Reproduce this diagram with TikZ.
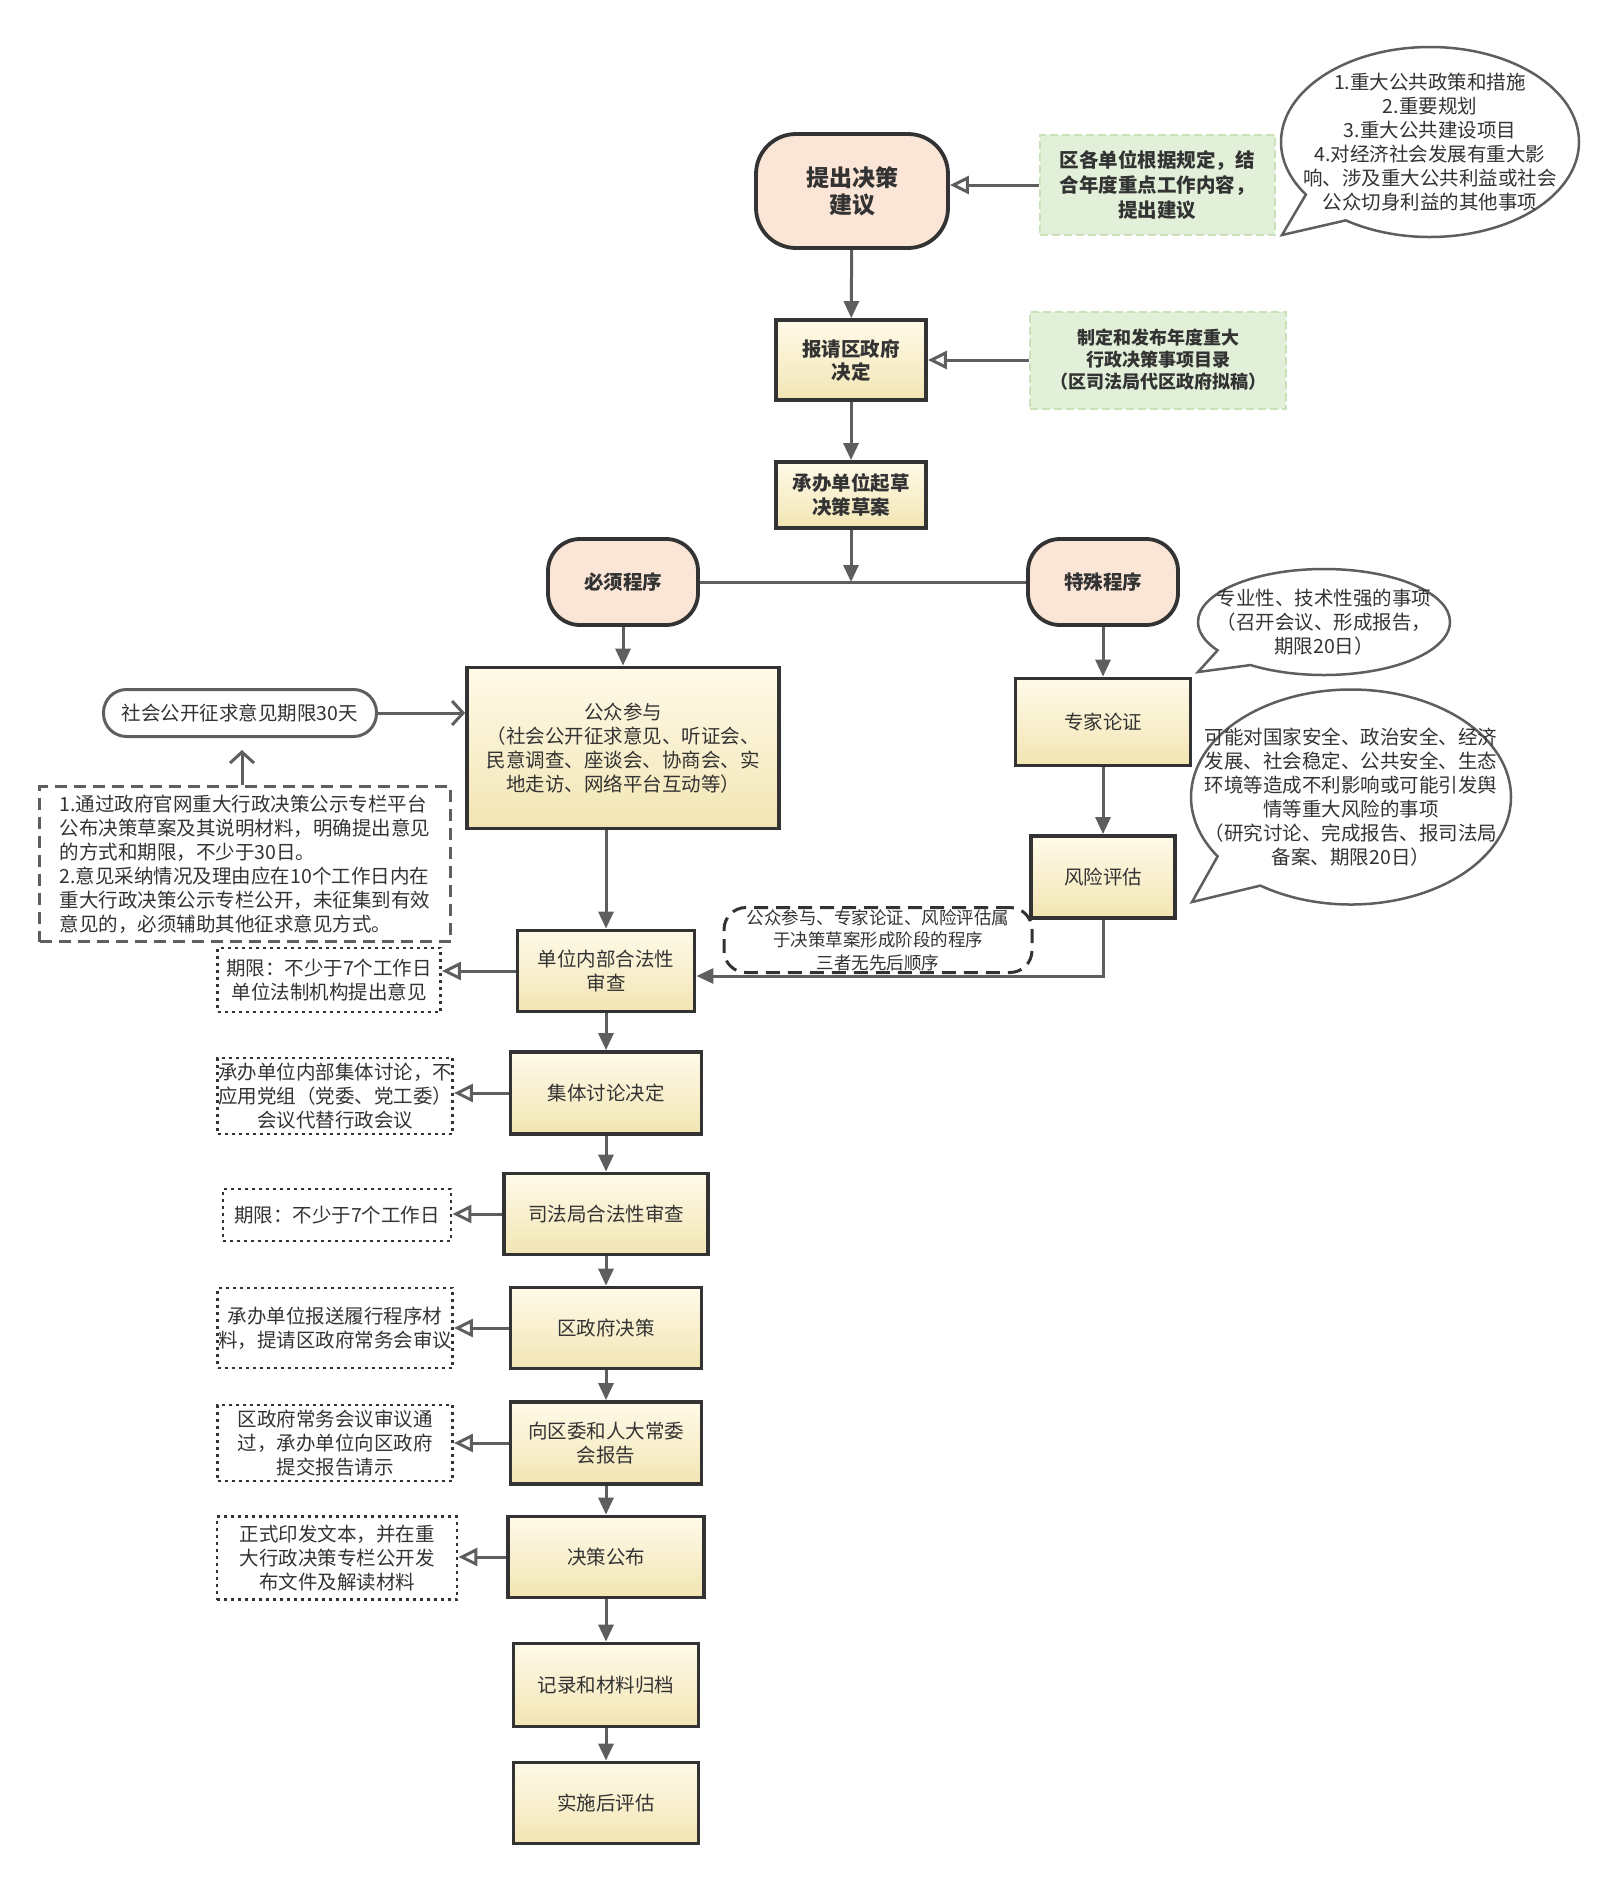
\documentclass[tikz,border=0pt]{standalone}
\usepackage{fontspec}
\setmainfont{Noto Sans CJK SC}
\definecolor{TraitGris}{HTML}{5E5E5E}
\definecolor{BordSombre}{HTML}{333333}
\definecolor{TexteSombre}{HTML}{333333}
\definecolor{PecheClair}{HTML}{FBE5D6}
\definecolor{JauneHaut}{HTML}{FFFAE9}
\definecolor{JauneBas}{HTML}{F2E5B3}
\definecolor{VertClair}{HTML}{E2F0D9}
\definecolor{VertBord}{HTML}{C9E3B9}
\usetikzlibrary{arrows.meta}
\usetikzlibrary{shapes.callouts}
\begin{document}
\begin{tikzpicture}[x=1pt, y=-1pt,
    every node/.style={text=TexteSombre, font=\fontsize{19.5}{24}\selectfont, align=center, inner sep=0pt},
    boiteJaune/.style={draw=BordSombre, line width=3.8pt, top color=JauneHaut, bottom color=JauneBas},
    boitePeche/.style={draw=BordSombre, line width=3.8pt, fill=PecheClair, font=\fontsize{19.5}{24}\selectfont\bfseries},
    boiteVerte/.style={draw=VertBord, line width=2pt, dash pattern=on 8pt off 4pt, fill=VertClair},
    notePointille/.style={draw=BordSombre, line width=2.8pt, dash pattern=on 3pt off 4pt},
    noteTiret/.style={draw=TraitGris, line width=2.8pt, dash pattern=on 12pt off 7pt},
    bulle/.style={ellipse callout, draw=TraitGris, line width=2.5pt, fill=white, callout pointer arc=22},
    trait/.style={draw=TraitGris, line width=3pt},
    flux/.style={trait, arrows={-Triangle[length=17, width=15]}},
    fluxVide/.style={trait, arrows={-Triangle[open, length=19, width=18, fill=white]}},
    fluxOuvert/.style={trait, arrows={-Straight Barb[length=11, width=24]}}]
    \useasboundingbox (0,0) rectangle (1617,1882);

    % haut : proposition et decision
    \node[boitePeche, minimum width=192, minimum height=114, rounded corners=40pt, font=\fontsize{23}{27}\selectfont\bfseries] (proposer) at (852,191) {提出决策\\建议};
    \node[boiteVerte, minimum width=235, minimum height=100, font=\fontsize{19.5}{25}\selectfont\bfseries] (sourceUnites) at (1157,185) {区各单位根据规定，结\\合年度重点工作内容，\\提出建议};
    \node[bulle, minimum width=298, minimum height=190, callout absolute pointer={(1282,235)}] (bulleMatieres) at (1430,142) {};
    \node (texteMatieres) at (bulleMatieres.center) {1.重大公共政策和措施\\2.重要规划\\3.重大公共建设项目\\4.对经济社会发展有重大影\\响、涉及重大公共利益或社会\\公众切身利益的其他事项};

    \node[boiteJaune, minimum width=150, minimum height=80, font=\fontsize{19.5}{23}\selectfont\bfseries] (demande) at (851,360) {报请区政府\\决定};
    \node[boiteVerte, minimum width=256, minimum height=97, font=\fontsize{18}{22}\selectfont\bfseries] (catalogue) at (1158,360) {制定和发布年度重大\\行政决策事项目录\\（区司法局代区政府拟稿）};
    \node[boiteJaune, minimum width=150, minimum height=66, font=\fontsize{19.5}{24}\selectfont\bfseries] (redaction) at (851,495) {承办单位起草\\决策草案};

    % deux branches
    \node[boitePeche, minimum width=150, minimum height=86, rounded corners=32pt] (obligatoire) at (623,582) {必须程序};
    \node[boitePeche, minimum width=150, minimum height=86, rounded corners=32pt] (speciale) at (1103,582) {特殊程序};

    \node[boiteJaune, minimum width=312, minimum height=161] (public) at (623,748) {公众参与\\（社会公开征求意见、听证会、\\民意调查、座谈会、协商会、实\\地走访、网络平台互动等）};
    \node[draw=TraitGris, line width=3pt, rounded corners=23pt, minimum width=273, minimum height=47] (consultation) at (240,713) {社会公开征求意见期限30天};
    \node[noteTiret, minimum width=411, minimum height=155, align=left] (notePublic) at (245,864) {1.通过政府官网重大行政决策公示专栏平台\\公布决策草案及其说明材料，明确提出意见\\的方式和期限，不少于30日。\\2.意见采纳情况及理由应在10个工作日内在\\重大行政决策公示专栏公开，未征集到有效\\意见的，必须辅助其他征求意见方式。};

    \node[boiteJaune, minimum width=175, minimum height=87] (expert) at (1103,722) {专家论证};
    \node[bulle, minimum width=252, minimum height=106, callout absolute pointer={(1198,672)}] (bulleExpert) at (1324,622) {};
    \node (texteExpert) at (bulleExpert.center) {专业性、技术性强的事项\\（召开会议、形成报告，\\期限20日）};
    \node[boiteJaune, minimum width=144, minimum height=82] (risque) at (1103,877) {风险评估};
    \node[bulle, minimum width=320, minimum height=215, callout absolute pointer={(1192,902)}] (bulleRisque) at (1351,797) {};
    \node (texteRisque) at (bulleRisque.center) {可能对国家安全、政治安全、经济\\发展、社会稳定、公共安全、生态\\环境等造成不利影响或可能引发舆\\情等重大风险的事项\\（研究讨论、完成报告、报司法局\\备案、期限20日）};
    \node[draw=BordSombre, line width=3pt, dash pattern=on 14pt off 8pt, rounded corners=22pt, minimum width=308, minimum height=65, font=\fontsize{17.5}{22.5}\selectfont] (noteOrdre) at (878,940) {公众参与、专家论证、风险评估属\\于决策草案形成阶段的程序\\三者无先后顺序};

    % colonne principale
    \node[boiteJaune, minimum width=177, minimum height=81] (unite) at (606,971) {单位内部合法性\\审查};
    \node[boiteJaune, minimum width=191, minimum height=82] (collectif) at (606,1093) {集体讨论决定};
    \node[boiteJaune, minimum width=204, minimum height=81] (justice) at (606,1214) {司法局合法性审查};
    \node[boiteJaune, minimum width=191, minimum height=81] (decision) at (606,1328) {区政府决策};
    \node[boiteJaune, minimum width=191, minimum height=82] (rapport) at (606,1443) {向区委和人大常委\\会报告};
    \node[boiteJaune, minimum width=196, minimum height=81] (publication) at (606,1557) {决策公布};
    \node[boiteJaune, minimum width=185, minimum height=83] (archivage) at (606,1685) {记录和材料归档};
    \node[boiteJaune, minimum width=185, minimum height=81] (evaluation) at (606,1803) {实施后评估};

    % notes de gauche
    \node[notePointille, minimum width=223, minimum height=64] (noteUnite) at (329,980) {期限：不少于7个工作日\\单位法制机构提出意见};
    \node[notePointille, minimum width=235, minimum height=76] (noteCollectif) at (335,1096) {承办单位内部集体讨论，不\\应用党组（党委、党工委）\\会议代替行政会议};
    \node[notePointille, minimum width=228, minimum height=52] (noteJustice) at (337,1215) {期限：不少于7个工作日};
    \node[notePointille, minimum width=235, minimum height=80] (noteDecision) at (335,1328) {承办单位报送履行程序材\\料，提请区政府常务会审议};
    \node[notePointille, minimum width=235, minimum height=76] (noteRapport) at (335,1443) {区政府常务会议审议通\\过，承办单位向区政府\\提交报告请示};
    \node[notePointille, minimum width=240, minimum height=83] (notePublication) at (337,1558) {正式印发文本，并在重\\大行政决策专栏公开发\\布文件及解读材料};

    % liaisons
    \draw[fluxVide] (sourceUnites.west) -- (sourceUnites.west -| proposer.east);
    \draw[flux] (proposer) -- (demande);
    \draw[fluxVide] (catalogue.west) -- (catalogue.west -| demande.east);
    \draw[flux] (demande) -- (redaction);
    \draw[trait] (obligatoire.east) -- (speciale.west);
    \draw[flux] (redaction.south) -- (redaction.south |- obligatoire.east);
    \draw[flux] (obligatoire) -- (public);
    \draw[flux] (speciale) -- (expert);
    \draw[flux] (expert) -- (risque);
    \draw[fluxOuvert] (consultation.east) -- (consultation.east -| public.west);
    \draw[fluxOuvert, shorten >=12pt] (notePublic.north -| 242,0) -- (consultation.south -| 242,0);
    \draw[flux] (public.south -| unite.north) -- (unite.north);
    \draw[flux] (risque.south) |- ([yshift=-5pt]unite.east);
    \foreach \haut/\bas in {unite/collectif, collectif/justice, justice/decision, decision/rapport, rapport/publication, publication/archivage, archivage/evaluation}
        \draw[flux] (\haut) -- (\bas);
    \foreach \etape/\note in {unite/noteUnite, collectif/noteCollectif, justice/noteJustice, decision/noteDecision, rapport/noteRapport, publication/notePublication}
        \draw[fluxVide] (\etape.west) -- (\etape.west -| \note.east);
\end{tikzpicture}
\end{document}
